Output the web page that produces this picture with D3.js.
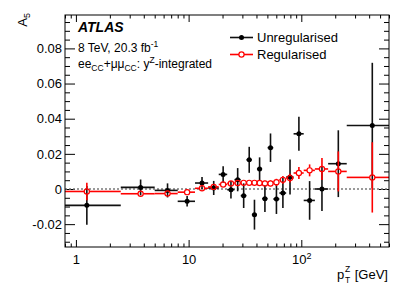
<!DOCTYPE html>
<html lang="en">
<head>
<meta charset="UTF-8">
<title>A5 vs pTZ</title>
<script src="https://d3js.org/d3.v7.min.js"></script>
<style>
    body{margin:0;background:#fff;}
    svg{font-family:"Liberation Sans", Arial, Helvetica, sans-serif;}
</style>
</head>
<body>
<svg id="canvas" width="409" height="294"></svg>
<script>
// pT bin edges [GeV]
const binEdges = [0, 2.5, 5, 8, 11.4, 14.9, 18.5, 22, 25.5, 29, 32.6, 36.4, 40.4,
    44.9, 50.2, 56.4, 63.9, 73.4, 85.4, 105, 132, 173, 253, 600];
// unregularised A5 and its uncertainty
const unreg = [-0.0093, 0.0009, -0.0008, -0.0070, 0.0034, 0.0006, 0.0083, -0.0004,
    0.0053, -0.0038, 0.0166, -0.0146, 0.0114, -0.0055, 0.0235, -0.0057, -0.0023,
    0.0068, 0.0314, -0.0065, 0.0000, 0.0144, 0.0361];
const unregErr = [0.011, 0.0045, 0.004, 0.003, 0.0034, 0.004, 0.0047, 0.005, 0.0066,
    0.007, 0.0074, 0.0085, 0.0066, 0.0076, 0.0081, 0.0085, 0.0085, 0.010, 0.0097,
    0.011, 0.0125, 0.019, 0.0357];
// regularised A5 and its uncertainty
const reg = [-0.0014, -0.0027, -0.0026, -0.0018, 0.0004, 0.0012, 0.0026, 0.0032,
    0.0034, 0.0035, 0.0035, 0.0035, 0.0034, 0.0032, 0.0032, 0.0038, 0.0052, 0.0062,
    0.0091, 0.0106, 0.0114, 0.0100, 0.0066];
const regErr = [0.005, 0.0015, 0.0015, 0.0015, 0.0015, 0.0015, 0.0015, 0.0015, 0.0015,
    0.0015, 0.0015, 0.0015, 0.0016, 0.0017, 0.0018, 0.002, 0.0022, 0.0025, 0.0034,
    0.0034, 0.0063, 0.0114, 0.020];
const yMajor = [-0.02, 0, 0.02, 0.04, 0.06, 0.08];
const xMajor = [1, 10, 100];
const xMajorExp = [0, 1, 2];

const svg = d3.select("#canvas");
const L = 65, R = 389, T = 15, B = 247;

const x = d3.scaleLog().domain([0.8, 600]).range([L, R]);
const y = d3.scaleLinear().domain([-0.033, 0.099]).range([B, T]);

// build the per-bin rows
function rows(vals, errs) {
    return vals.map((v, i) => ({
        lo: Math.max(binEdges[i], x.domain()[0]),
        hi: binEdges[i + 1],
        c: (binEdges[i] + binEdges[i + 1]) / 2,
        v: v, e: errs[i]
    }));
}
const black = rows(unreg, unregErr);
const red = rows(reg, regErr);

// minor ticks
const yMinor = d3.range(-0.03, 0.0991, 0.005).map(d => +d.toFixed(3))
    .filter(d => !yMajor.some(m => Math.abs(m - d) < 1e-9));
const xMinor = [];
[0.1, 1, 10, 100].forEach(dec => {
    for (let k = 2; k <= 9; k++) {
        const v = dec * k;
        if (v >= 0.8 && v <= 600) xMinor.push(v);
    }
});

function strip(g) { g.select(".domain").remove(); }

// y axes
const fmtY = d => d === 0 ? "0" : d.toFixed(2).replace("\u2212", "-");
svg.append("g").attr("transform", `translate(${L},0)`)
    .call(d3.axisLeft(y).tickValues(yMajor).tickSize(-10).tickPadding(3).tickFormat(fmtY))
    .call(strip)
    .call(g => g.selectAll("text").attr("font-size", 13).attr("fill", "#000")
        .attr("font-family", "Liberation Sans, Arial, sans-serif"));
svg.append("g").attr("transform", `translate(${L},0)`)
    .call(d3.axisLeft(y).tickValues(yMinor).tickSize(-5).tickFormat("")).call(strip);
svg.append("g").attr("transform", `translate(${R},0)`)
    .call(d3.axisRight(y).tickValues(yMajor).tickSize(-10).tickFormat("")).call(strip);
svg.append("g").attr("transform", `translate(${R},0)`)
    .call(d3.axisRight(y).tickValues(yMinor).tickSize(-5).tickFormat("")).call(strip);

// x axes
svg.append("g").attr("transform", `translate(0,${B})`)
    .call(d3.axisBottom(x).tickValues(xMajor).tickSize(-7).tickPadding(8).tickFormat(""))
    .call(strip)
    .call(g => g.selectAll(".tick text").each(function (d, i) {
        const t = d3.select(this).attr("font-size", 13).attr("fill", "#000")
            .attr("font-family", "Liberation Sans, Arial, sans-serif");
        const p = xMajorExp[i];
        if (p < 2) t.text(String(d));
        else {
            t.text("10");
            t.append("tspan").attr("font-size", 9).attr("dy", "-0.55em").text(String(p));
        }
    }));
svg.append("g").attr("transform", `translate(0,${B})`)
    .call(d3.axisBottom(x).tickValues(xMinor).tickSize(-3.5).tickFormat("")).call(strip);
svg.append("g").attr("transform", `translate(0,${T})`)
    .call(d3.axisTop(x).tickValues(xMajor).tickSize(-7).tickFormat("")).call(strip);
svg.append("g").attr("transform", `translate(0,${T})`)
    .call(d3.axisTop(x).tickValues(xMinor).tickSize(-3.5).tickFormat("")).call(strip);

svg.selectAll(".tick line").attr("stroke", "#000").attr("stroke-width", 1);

// zero line
svg.append("line")
    .attr("x1", L).attr("x2", R).attr("y1", y(0)).attr("y2", y(0))
    .attr("stroke", "#7a7a7a").attr("stroke-width", 1.5).attr("stroke-dasharray", "2,2");

// unregularised points
const gB = svg.append("g");
gB.selectAll(".h").data(black).join("line")
    .attr("x1", d => x(d.lo)).attr("x2", d => x(d.hi))
    .attr("y1", d => y(d.v)).attr("y2", d => y(d.v))
    .attr("stroke", "#111").attr("stroke-width", 1.6);
gB.selectAll(".v").data(black).join("line")
    .attr("x1", d => x(d.c)).attr("x2", d => x(d.c))
    .attr("y1", d => y(d.v - d.e)).attr("y2", d => y(d.v + d.e))
    .attr("stroke", "#111").attr("stroke-width", 1.6);
gB.selectAll("circle").data(black).join("circle")
    .attr("cx", d => x(d.c)).attr("cy", d => y(d.v)).attr("r", 2.5).attr("fill", "#000");

// regularised points (open markers, bars stop at the marker)
const rr = 2.6;
const gR = svg.append("g").attr("stroke", "#ff0000").attr("stroke-width", 1.6);
gR.selectAll(".hl").data(red).join("line")
    .attr("x1", d => x(d.lo)).attr("x2", d => x(d.c) - rr)
    .attr("y1", d => y(d.v)).attr("y2", d => y(d.v));
gR.selectAll(".hr").data(red).join("line")
    .attr("x1", d => x(d.c) + rr).attr("x2", d => x(d.hi))
    .attr("y1", d => y(d.v)).attr("y2", d => y(d.v));
gR.selectAll(".vu").data(red).join("line")
    .attr("x1", d => x(d.c)).attr("x2", d => x(d.c))
    .attr("y1", d => Math.min(y(d.v + d.e), y(d.v) - rr)).attr("y2", d => y(d.v) - rr);
gR.selectAll(".vd").data(red).join("line")
    .attr("x1", d => x(d.c)).attr("x2", d => x(d.c))
    .attr("y1", d => y(d.v) + rr).attr("y2", d => Math.max(y(d.v - d.e), y(d.v) + rr));
gR.selectAll("circle").data(red).join("circle")
    .attr("cx", d => x(d.c)).attr("cy", d => y(d.v)).attr("r", rr)
    .attr("fill", "none").attr("stroke-width", 1.2);

// frame
svg.append("rect").attr("x", L).attr("y", T).attr("width", R - L).attr("height", B - T)
    .attr("fill", "none").attr("stroke", "#000").attr("stroke-width", 1);

// legend
const leg = svg.append("g");
leg.append("line").attr("x1", 230).attr("x2", 253).attr("y1", 37.5).attr("y2", 37.5)
    .attr("stroke", "#111").attr("stroke-width", 1.6);
leg.append("circle").attr("cx", 241.5).attr("cy", 37.5).attr("r", 2.5).attr("fill", "#000");
leg.append("text").attr("x", 257).attr("y", 42).attr("font-size", 13).text("Unregularised");
leg.append("line").attr("x1", 230).attr("x2", 239).attr("y1", 54.5).attr("y2", 54.5)
    .attr("stroke", "#ff0000").attr("stroke-width", 1.6);
leg.append("line").attr("x1", 244).attr("x2", 253).attr("y1", 54.5).attr("y2", 54.5)
    .attr("stroke", "#ff0000").attr("stroke-width", 1.6);
leg.append("circle").attr("cx", 241.5).attr("cy", 54.5).attr("r", rr)
    .attr("fill", "none").attr("stroke", "#ff0000").attr("stroke-width", 1.2);
leg.append("text").attr("x", 257).attr("y", 59).attr("font-size", 13).text("Regularised");

// labels
svg.append("text").attr("x", 78).attr("y", 32).attr("font-size", 14)
    .attr("font-weight", "bold").attr("font-style", "italic").text("ATLAS");
const t1 = svg.append("text").attr("x", 78).attr("y", 51.5).attr("font-size", 12);
t1.append("tspan").text("8 TeV, 20.3 fb");
t1.append("tspan").attr("font-size", 8.5).attr("dy", -5).text("-1");
const t2 = svg.append("text").attr("x", 78).attr("y", 68).attr("font-size", 12);
t2.append("tspan").text("ee");
t2.append("tspan").attr("font-size", 8.5).attr("dy", 3).text("CC");
t2.append("tspan").attr("dy", -3).text("+\u03bc\u03bc");
t2.append("tspan").attr("font-size", 8.5).attr("dy", 3).text("CC");
t2.append("tspan").attr("dy", -3).text(": y");
t2.append("tspan").attr("font-size", 8.5).attr("dy", -5).text("Z");
t2.append("tspan").attr("dy", 5).text("-integrated");

// x title
svg.append("text").attr("x", 337).attr("y", 279).attr("font-size", 13).text("p");
svg.append("text").attr("x", 345).attr("y", 272).attr("font-size", 8.5).text("Z");
svg.append("text").attr("x", 345).attr("y", 283).attr("font-size", 8.5).text("T");
svg.append("text").attr("x", 388).attr("y", 279).attr("font-size", 13)
    .attr("text-anchor", "end").text("[GeV]");

// y title
const yt = svg.append("text").attr("transform", "translate(27,13) rotate(-90)")
    .attr("text-anchor", "end").attr("font-size", 13);
yt.append("tspan").text("A");
yt.append("tspan").attr("font-size", 9).attr("dy", 3).text("5");
</script>
</body>
</html>
